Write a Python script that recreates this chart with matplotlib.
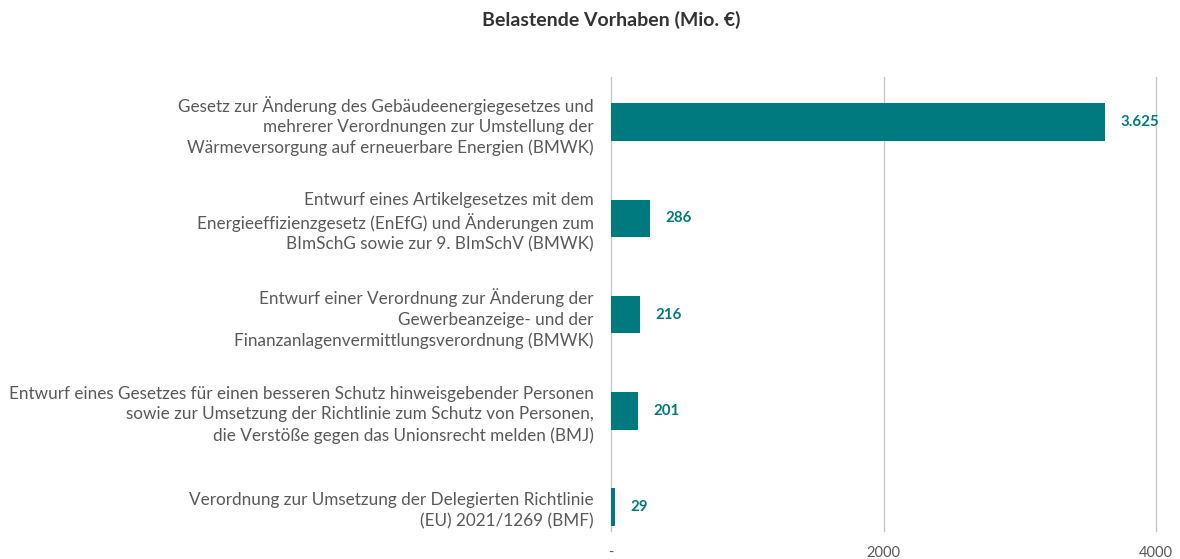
import matplotlib.pyplot as plt

plt.rcParams['font.family'] = ['Lato', 'DejaVu Sans']

# Data
categories = [
    "Gesetz zur Änderung des Gebäudeenergiegesetzes und\nmehrerer Verordnungen zur Umstellung der\nWärmeversorgung auf erneuerbare Energien (BMWK)",
    "Entwurf eines Artikelgesetzes mit dem\nEnergieeffizienzgesetz (EnEfG) und Änderungen zum\nBImSchG sowie zur 9. BImSchV (BMWK)",
    "Entwurf einer Verordnung zur Änderung der\nGewerbeanzeige- und der\nFinanzanlagenvermittlungsverordnung (BMWK)",
    "Entwurf eines Gesetzes für einen besseren Schutz hinweisgebender Personen\nsowie zur Umsetzung der Richtlinie zum Schutz von Personen,\ndie Verstöße gegen das Unionsrecht melden (BMJ)",
    "Verordnung zur Umsetzung der Delegierten Richtlinie\n(EU) 2021/1269 (BMF)",
]
values = [3625, 286, 216, 201, 29]
value_labels = ["3.625", "286", "216", "201", "29"]
x_ticks = [0, 2000, 4000]
x_tick_labels = ["-", "2000", "4000"]

teal = '#007A7E'
grey = '#595959'

fig = plt.figure(figsize=(11.8, 5.59), dpi=100)
ax = fig.add_axes([611/1180, 1 - 531/559, 545/1180, 454/559])

y = list(range(len(values)))
ax.barh(y, values, height=0.39, color=teal, zorder=3)

for yi, v, lab in zip(y, values, value_labels):
    ax.annotate(lab, (v, yi), xytext=(11, 0), textcoords='offset points',
                va='center', ha='left', fontsize=10.8, fontweight='bold', color=teal)

ax.set_xlim(0, 4000)
ax.set_ylim(4.25, -0.47)
ax.set_yticks(y)
ax.set_yticklabels(categories, fontsize=12.3, color=grey, linespacing=1.35)
ax.set_xticks(x_ticks)
ax.set_xticklabels(x_tick_labels, fontsize=10.5, color=grey)
ax.tick_params(axis='both', length=0)
ax.tick_params(axis='y', pad=12.5)
ax.tick_params(axis='x', pad=11)

for s in ax.spines.values():
    s.set_visible(False)
ax.grid(axis='x', color='#C8C8C8', linewidth=1, zorder=0)
for gl in ax.get_xgridlines():
    gl.set_clip_on(False)

fig.text(611/1180, 1 - 20/559, "Belastende Vorhaben (Mio. €)", ha='center', va='center',
         fontsize=14, fontweight='bold', color='#333333')

plt.savefig('out.png', dpi=100)
